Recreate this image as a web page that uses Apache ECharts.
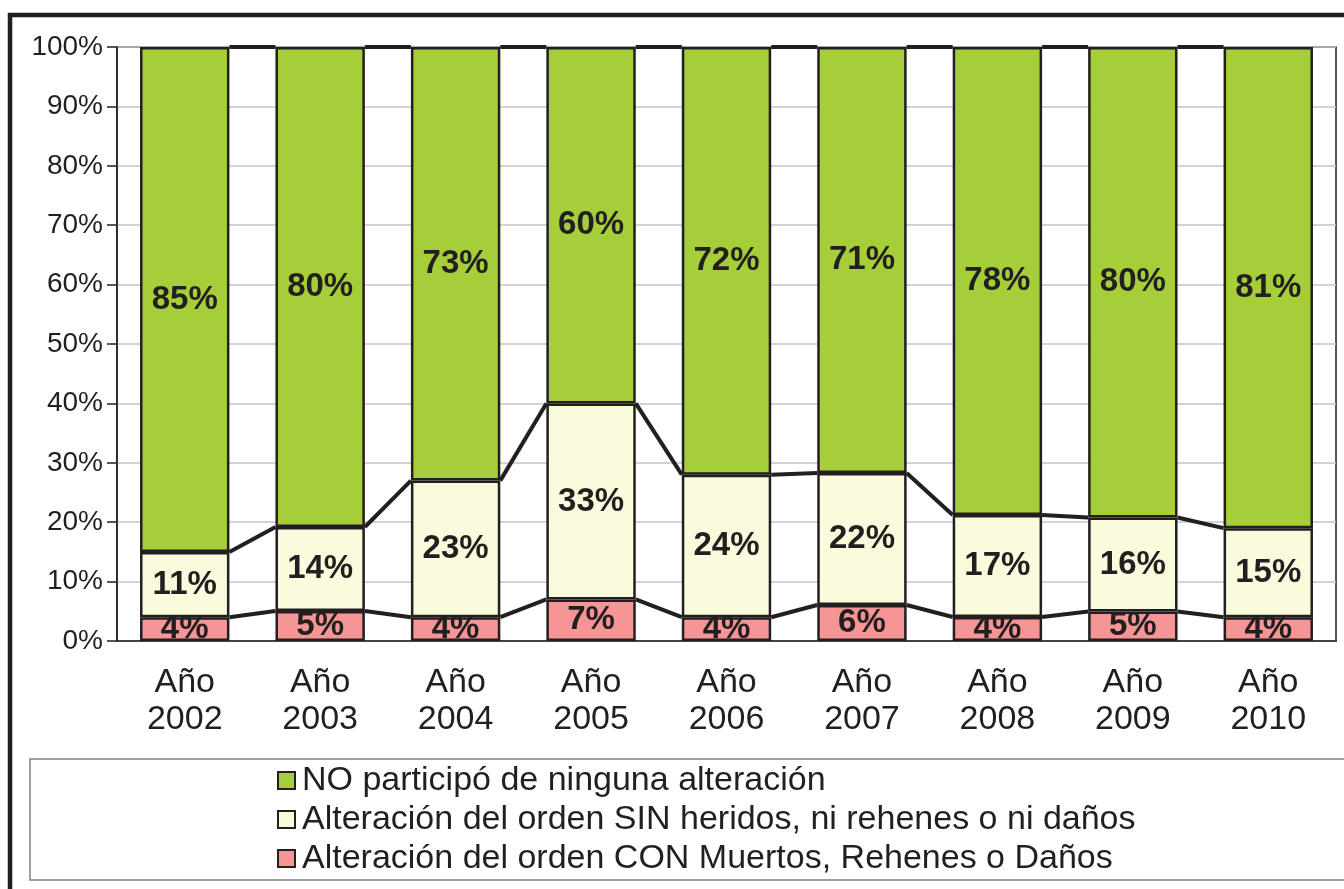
<!DOCTYPE html>
<html>
<head>
<meta charset="utf-8">
<title>Participación en alteraciones 2002-2010</title>
<script src="https://cdn.jsdelivr.net/npm/echarts@6/dist/echarts.min.js"></script>
<style>
  html, body { margin: 0; padding: 0; background: #fff; }
  #chart { width: 1344px; height: 889px; }
</style>
</head>
<body>
<div id="chart"></div>
<script>
// datos (porcentajes de cada año)
const years = ["Año\n2002", "Año\n2003", "Año\n2004", "Año\n2005", "Año\n2006", "Año\n2007", "Año\n2008", "Año\n2009", "Año\n2010"];
const conMuertos = [4, 5, 4, 7, 4, 6, 4, 5, 4];
const sinHeridos = [11, 14, 23, 33, 24, 22, 17, 16, 15];
const noParticipo = [85, 80, 73, 60, 72, 71, 78, 80, 81];
const yTicks = [0, 10, 20, 30, 40, 50, 60, 70, 80, 90, 100];

const names = [
  "NO participó de ninguna alteración",
  "Alteración del orden SIN heridos, ni rehenes o ni daños",
  "Alteración del orden CON Muertos, Rehenes o Daños"
];

// 100% apilado: se normaliza cada año a su total
const totals = years.map((_, i) => conMuertos[i] + sinHeridos[i] + noParticipo[i]);
const share = arr => arr.map((v, i) => ({ value: v / totals[i] * 100, raw: v }));

const redShare = share(conMuertos);
const yellowShare = share(sinHeridos);
const greenShare = share(noParticipo);

// cima acumulada de cada segmento (para las líneas de serie)
const redTop = redShare.map(d => d.value);
const yellowTop = yellowShare.map((d, i) => d.value + redTop[i]);
const greenTop = greenShare.map((d, i) => d.value + yellowTop[i]);

const BAR_W = 0.66;
const lineData = [];
for (let i = 0; i < years.length - 1; i++) {
  lineData.push([i, redTop[i], redTop[i + 1]]);
  lineData.push([i, yellowTop[i], yellowTop[i + 1]]);
  lineData.push([i, greenTop[i], greenTop[i + 1]]);
}

const border = "#231f20";
const labelStyle = {
  show: true,
  position: "inside",
  color: "#231f20",
  fontFamily: "Liberation Sans",
  fontWeight: "bold",
  fontSize: 33,
  formatter: p => p.data.raw + "%"
};

const chart = echarts.init(document.getElementById("chart"));
chart.setOption({
  animation: false,
  backgroundColor: "#fff",
  textStyle: { fontFamily: "Liberation Sans" },
  graphic: [
    {
      type: "rect",
      shape: { x: 10, y: 15, width: 1400, height: 1000 },
      style: { fill: "none", stroke: "#231f20", lineWidth: 4.5 },
      silent: true
    },
    {
      type: "rect",
      shape: { x: 30, y: 759, width: 1330, height: 121 },
      style: { fill: "none", stroke: "#7f7f7f", lineWidth: 1.5 },
      silent: true
    }
  ],
  grid: {
    left: 117, top: 47, right: 8, bottom: 248,
    show: true, borderColor: "#231f20", borderWidth: 1.5
  },
  legend: {
    orient: "vertical",
    left: 272,
    top: 756,
    itemWidth: 17,
    itemHeight: 17,
    itemGap: 0,
    icon: "rect",
    textStyle: { fontSize: 34, color: "#231f20", lineHeight: 39, padding: [0, 0, 0, 2] },
    data: names
  },
  xAxis: {
    type: "category",
    data: years,
    axisLine: { lineStyle: { color: "#231f20", width: 1.5 } },
    axisTick: { length: 10, lineStyle: { color: "#231f20", width: 1.5 } },
    axisLabel: { fontSize: 34, color: "#231f20", lineHeight: 37, margin: 23 }
  },
  yAxis: {
    type: "value",
    min: 0,
    max: 100,
    interval: 10,
    axisLine: { show: true, lineStyle: { color: "#231f20", width: 1.5 } },
    axisTick: { show: true, length: 10, lineStyle: { color: "#231f20", width: 1.5 } },
    axisLabel: {
      fontSize: 28, color: "#231f20", margin: 14,
      formatter: v => (yTicks.includes(v) ? v + "%" : "")
    },
    splitLine: { lineStyle: { color: "#c4c4c4", width: 1.5 } }
  },
  series: [
    {
      name: names[2],
      type: "bar",
      stack: "total",
      barWidth: (BAR_W * 100) + "%",
      data: redShare,
      itemStyle: { color: "#f59595", borderColor: border, borderWidth: 2.5 },
      label: labelStyle
    },
    {
      name: names[1],
      type: "bar",
      stack: "total",
      data: yellowShare,
      itemStyle: { color: "#fafadc", borderColor: border, borderWidth: 2.5 },
      label: labelStyle
    },
    {
      name: names[0],
      type: "bar",
      stack: "total",
      data: greenShare,
      itemStyle: { color: "#a6ce39", borderColor: border, borderWidth: 2.5 },
      label: labelStyle
    },
    {
      // líneas de serie entre columnas
      type: "custom",
      data: lineData,
      encode: { x: 0, y: [1, 2] },
      z: 5,
      silent: true,
      clip: false,
      renderItem: (params, api) => {
        const i = api.value(0);
        const p1 = api.coord([i, api.value(1)]);
        const p2 = api.coord([i + 1, api.value(2)]);
        const half = api.size([1, 0])[0] * BAR_W / 2;
        return {
          type: "line",
          shape: { x1: p1[0] + half, y1: p1[1], x2: p2[0] - half, y2: p2[1] },
          style: { stroke: border, lineWidth: 4 }
        };
      }
    }
  ]
});
</script>
</body>
</html>
